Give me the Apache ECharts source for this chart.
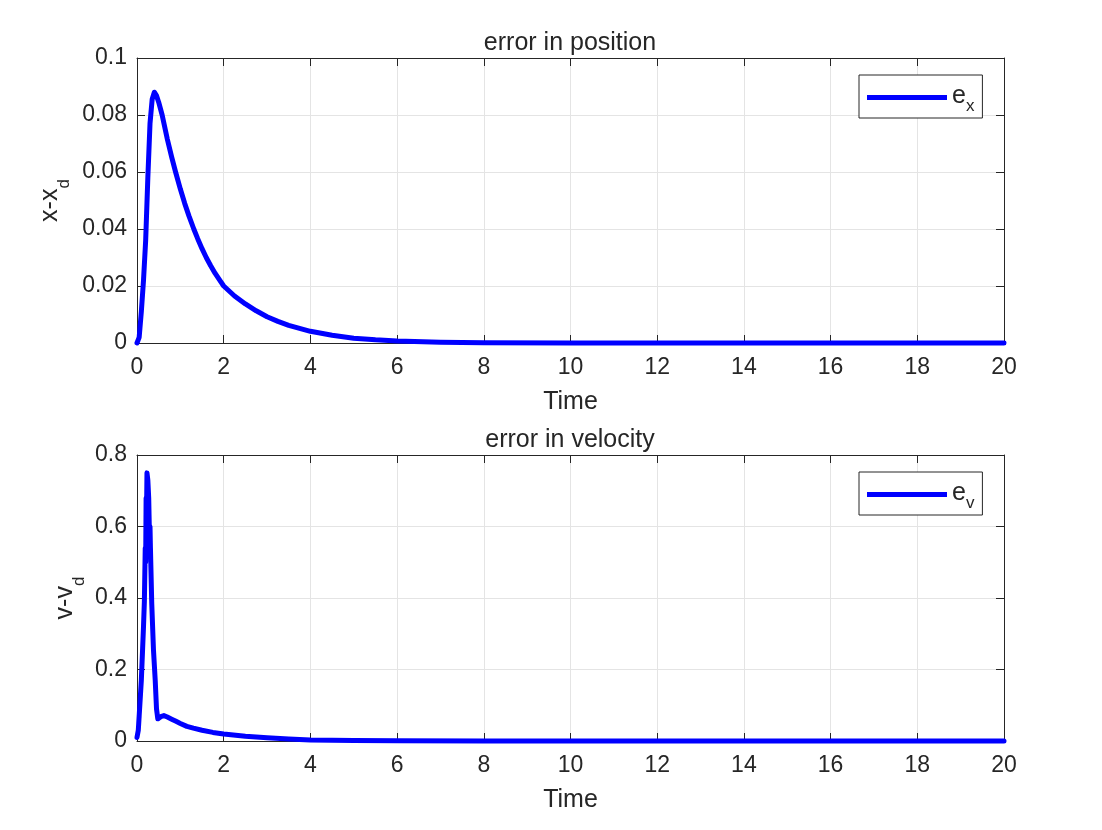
<!DOCTYPE html>
<html>
<head>
<meta charset="utf-8">
<script src="https://cdn.jsdelivr.net/npm/echarts@6/dist/echarts.min.js"></script>
<style>
html,body{margin:0;padding:0;background:#fff;}
#c{width:1102px;height:830px;}
</style>
</head>
<body>
<div id="c"></div>
<script>
const timePos = [0, 0.05, 0.1, 0.15, 0.2, 0.25, 0.3, 0.35, 0.4, 0.45, 0.5, 0.58, 0.7, 0.8, 0.89, 1.0, 1.1, 1.2, 1.31, 1.4, 1.5, 1.6, 1.7, 1.8, 1.9, 2.0, 2.25, 2.5, 2.75, 3.0, 3.25, 3.5, 4.0, 4.5, 5.0, 5.5, 6.0, 7.0, 8.0, 10, 20];
const errPos  = [0, 0.002, 0.011, 0.022, 0.036, 0.058, 0.077, 0.0855, 0.088, 0.0868, 0.0845, 0.080, 0.0715, 0.0652, 0.060, 0.054, 0.049, 0.0445, 0.040, 0.0366, 0.0331, 0.0299, 0.0271, 0.0245, 0.0222, 0.020, 0.0165, 0.0137, 0.0113, 0.0092, 0.0076, 0.0062, 0.0041, 0.0027, 0.0017, 0.0011, 0.0007, 0.0003, 0.0001, 0.00002, 0];

const timeVel = [0, 0.03, 0.05, 0.08, 0.1, 0.13, 0.15, 0.17, 0.19, 0.20, 0.21, 0.22, 0.23, 0.25, 0.27, 0.29, 0.30, 0.31, 0.34, 0.38, 0.42, 0.45, 0.48, 0.55, 0.62, 0.7, 0.8, 0.9, 1.0, 1.15, 1.3, 1.5, 1.75, 2.0, 2.5, 3.0, 3.5, 4.0, 5.0, 6.0, 8.0, 10, 20];
const errVel  = [0.01, 0.03, 0.07, 0.13, 0.17, 0.26, 0.32, 0.39, 0.54, 0.50, 0.68, 0.64, 0.75, 0.73, 0.68, 0.56, 0.60, 0.54, 0.385, 0.255, 0.17, 0.09, 0.062, 0.068, 0.071, 0.067, 0.061, 0.055, 0.049, 0.041, 0.036, 0.030, 0.024, 0.0195, 0.013, 0.009, 0.0055, 0.003, 0.0012, 0.0005, 0.0001, 0, 0];

const titles = ['error in position', 'error in velocity'];
const seriesNames = ['ex', 'ev'];
const subs = {ex: 'x', ev: 'v'};
const yNames = ['{m|x-x}{s|d}', '{m|v-v}{s|d}'];
const xName = 'Time';

const FONT = '"Liberation Sans", Arial, Helvetica, sans-serif';
const TXT = '#262626';
const richName = {
  m: {fontSize: 25, fontFamily: FONT, color: TXT, lineHeight: 25, padding: [0, 0, 10, 0]},
  s: {fontSize: 17, fontFamily: FONT, color: TXT, lineHeight: 17, padding: [18, 0, 0, 0]}
};
const richLegend = {
  m: {fontSize: 25, fontFamily: FONT, color: TXT, lineHeight: 25, padding: [4, 0, 6, 0]},
  s: {fontSize: 17, fontFamily: FONT, color: TXT, lineHeight: 17, padding: [18, 0, 0, 0]}
};

const grids = [
  {left: 137, top: 58, width: 867, height: 285},
  {left: 137, top: 455, width: 867, height: 286}
];

function pairs(t, v) { return t.map((x, i) => [x, v[i]]); }

const xAxes = [], yAxes = [];
const yMax = [0.1, 0.8], yInt = [0.02, 0.2], yGap = [69, 54];
for (let g = 0; g < 2; g++) {
  xAxes.push({
    type: 'value', gridIndex: g, min: 0, max: 20, interval: 2, position: 'bottom',
    name: xName, nameLocation: 'middle', nameGap: 47, nameMoveOverlap: false,
    nameTextStyle: {fontSize: 25, fontFamily: FONT, color: TXT},
    axisLine: {show: true, lineStyle: {color: TXT, width: 1}},
    axisTick: {show: true, inside: true, length: 8, lineStyle: {color: TXT}},
    axisLabel: {fontSize: 23, fontFamily: FONT, color: TXT, margin: 13},
    splitLine: {show: true, lineStyle: {color: '#e4e4e4', width: 1}}
  });
  xAxes.push({
    type: 'value', gridIndex: g, min: 0, max: 20, interval: 2, position: 'top',
    axisLine: {show: true, onZero: false, lineStyle: {color: TXT, width: 1}},
    axisTick: {show: true, inside: true, length: 8, lineStyle: {color: TXT}},
    axisLabel: {show: false}, splitLine: {show: false}
  });
  yAxes.push({
    type: 'value', gridIndex: g, min: 0, max: yMax[g], interval: yInt[g], position: 'left',
    name: yNames[g], nameLocation: 'middle', nameGap: yGap[g], nameMoveOverlap: false,
    nameTextStyle: {rich: richName},
    axisLine: {show: true, lineStyle: {color: TXT, width: 1}},
    axisTick: {show: true, inside: true, length: 8, lineStyle: {color: TXT}},
    axisLabel: {fontSize: 23, fontFamily: FONT, color: TXT, margin: 10},
    splitLine: {show: true, lineStyle: {color: '#e4e4e4', width: 1}}
  });
  yAxes.push({
    type: 'value', gridIndex: g, min: 0, max: yMax[g], interval: yInt[g], position: 'right',
    axisLine: {show: true, onZero: false, lineStyle: {color: TXT, width: 1}},
    axisTick: {show: true, inside: true, length: 8, lineStyle: {color: TXT}},
    axisLabel: {show: false}, splitLine: {show: false}
  });
}

const data = [pairs(timePos, errPos), pairs(timeVel, errVel)];
const series = data.map((d, g) => ({
  name: seriesNames[g], type: 'line', xAxisIndex: 2 * g, yAxisIndex: 2 * g,
  data: d, showSymbol: false, symbol: 'none', clip: false, smooth: false,
  lineStyle: {color: '#0000ff', width: 5, join: 'round', cap: 'round'}, itemStyle: {color: '#0000ff'},
  animation: false, z: 3
}));

const legends = [0, 1].map(g => ({
  data: [seriesNames[g]], left: 859, top: [75, 472][g], orient: 'vertical',
  icon: 'rect', itemWidth: 80, itemHeight: 5,
  padding: [5, 8, 3, 8], borderColor: TXT, borderWidth: 1, backgroundColor: '#fff',
  formatter: n => '{m|e}{s|' + subs[n] + '}',
  textStyle: {rich: richLegend},
  itemStyle: {color: '#0000ff'}
}));

const chart = echarts.init(document.getElementById('c'), null, {renderer: 'canvas'});
chart.setOption({
  animation: false,
  backgroundColor: '#fff',
  title: titles.map((t, g) => ({
    text: t, left: 570, top: [31, 428][g], textAlign: 'center', padding: 0,
    textStyle: {fontSize: 25, fontWeight: 'normal', fontFamily: FONT, color: TXT}
  })),
  grid: grids,
  xAxis: xAxes,
  yAxis: yAxes,
  legend: legends,
  series: series
});
</script>
</body>
</html>
